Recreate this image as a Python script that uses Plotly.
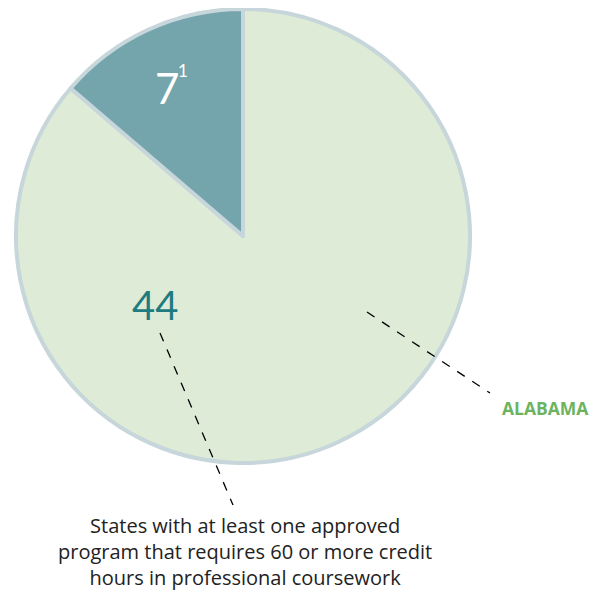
import plotly.graph_objects as go

# slice data
slice_labels = ["60+ credit hours", "Other"]
slice_values = [44, 7]
slice_colors = ["#DDEBD7", "#75A5AC"]
footnote_mark = "1"

caption_lines = [
    "States with at least one approved",
    "program that requires 60 or more credit",
    "hours in professional coursework",
]

# the page body has an 8px margin, so the figure is drawn 8px in
OFF = 8
W, H = 590, 590


def px(x):
    return (x - OFF) / W


def py(y):
    return 1 - (y - OFF) / H


fig = go.Figure()

fig.add_trace(
    go.Pie(
        labels=slice_labels,
        values=slice_values,
        sort=False,
        direction="clockwise",
        rotation=0,
        marker=dict(colors=slice_colors, line=dict(color="#C6D6DA", width=4)),
        textinfo="none",
        hoverinfo="label+value",
        showlegend=False,
        domain=dict(x=[px(16), px(470)], y=[py(463), py(9)]),
    )
)

num_font = "Lato, Open Sans, sans-serif"
txt_font = "Open Sans, Noto Sans, sans-serif"

annotations = [
    dict(x=px(167), y=py(88), text=str(slice_values[1]),
         font=dict(size=42, color="white", family=num_font)),
    dict(x=px(183.5), y=py(71), text=footnote_mark,
         font=dict(size=17, color="white", family=num_font)),
    dict(x=px(155), y=py(305), text=str(slice_values[0]),
         font=dict(size=40, color="#1E7B80", family=num_font)),
    dict(x=px(545), y=py(408), text="<b>ALABAMA</b>",
         font=dict(size=17.5, color="#6DB35F", family=txt_font)),
    dict(x=px(245), y=py(551), text="<br>".join(caption_lines),
         font=dict(size=20, color="#222222", family=txt_font)),
]
for a in annotations:
    a.update(xref="paper", yref="paper", showarrow=False,
             xanchor="center", yanchor="middle")

# dashed leader lines
shapes = [
    dict(type="line", x0=px(367), y0=py(312), x1=px(490), y1=py(393)),
    dict(type="line", x0=px(160), y0=py(333), x1=px(233), y1=py(505)),
]
for s in shapes:
    s.update(xref="paper", yref="paper",
             line=dict(color="black", width=1.3, dash="dash"))

fig.update_layout(
    width=W, height=H,
    margin=dict(l=0, r=0, t=0, b=0),
    paper_bgcolor="white",
    plot_bgcolor="white",
    annotations=annotations,
    shapes=shapes,
)

fig.write_html("out.html")
